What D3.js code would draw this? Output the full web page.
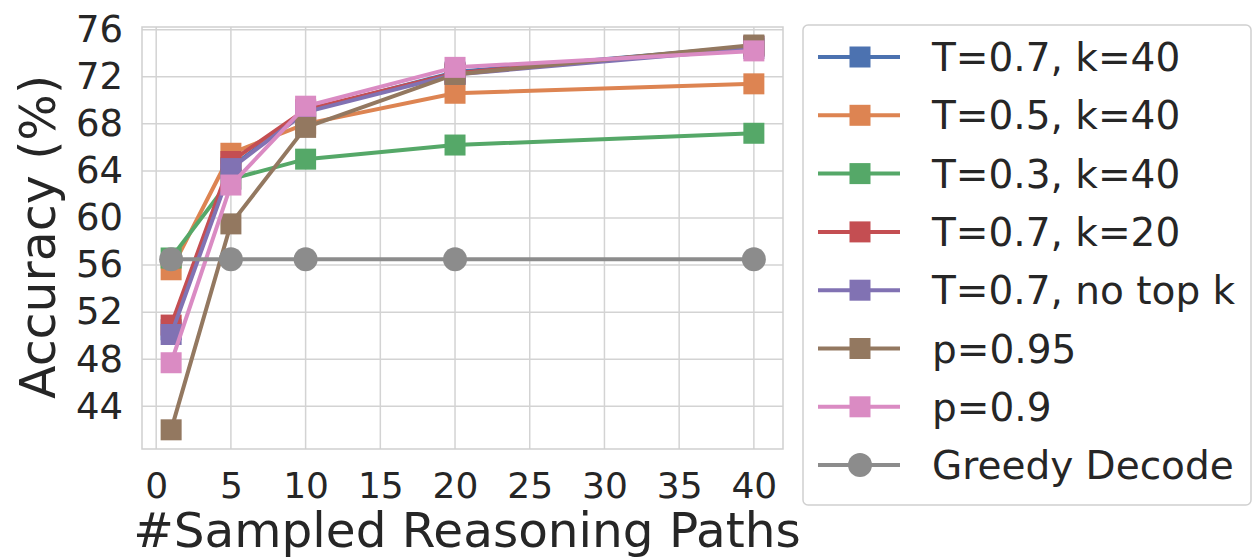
<!DOCTYPE html>
<html><head><meta charset="utf-8">
<script src="https://cdn.jsdelivr.net/npm/d3@7"></script>
<style>body{margin:0;background:#fff}svg{display:block;font-family:"DejaVu Sans",sans-serif}</style>
</head><body><svg id="c" width="1253" height="560"></svg>
<script>
const xValues = [1, 5, 10, 20, 40];
const seriesNames = ["T=0.7, k=40","T=0.5, k=40","T=0.3, k=40","T=0.7, k=20","T=0.7, no top k","p=0.95","p=0.9","Greedy Decode"];
const seriesColors = ["#4C72B0","#DD8452","#55A868","#C44E52","#8172B3","#937860","#DA8BC3","#8C8C8C"];
const seriesMarkers = ["square","square","square","square","square","square","square","circle"];
const t07k40 = [50.5, 64.3, 69.1, 72.4, 74.6];
const t05k40 = [55.6, 65.5, 68.0, 70.6, 71.4];
const t03k40 = [56.6, 63.3, 65.0, 66.2, 67.2];
const t07k20 = [50.9, 64.8, 69.2, 72.3, 74.6];
const t07noTopK = [50.1, 64.2, 69.0, 72.2, 74.4];
const p095 = [42.0, 59.5, 67.7, 72.2, 74.7];
const p09 = [47.7, 62.8, 69.5, 72.8, 74.2];
const greedy = [56.5, 56.5, 56.5, 56.5, 56.5];
const seriesValues = [t07k40, t05k40, t03k40, t07k20, t07noTopK, p095, p09, greedy];
const xTicks = [0,5,10,15,20,25,30,35,40];
const yTicks = [44,48,52,56,60,64,68,72,76];

const svg = d3.select("#c");
const L = 142, R = 783, T = 27, B = 449;
const x = d3.scaleLinear().domain([-0.95, 41.95]).range([L, R]);
const y = d3.scaleLinear().domain([40.37, 76.23]).range([B, T]);

// grid
const g = svg.append("g");
g.selectAll(".gx").data(xTicks).join("line")
  .attr("x1", d => x(d)).attr("x2", d => x(d)).attr("y1", T).attr("y2", B)
  .attr("stroke", "#d3d3d3").attr("stroke-width", 1.5);
g.selectAll(".gy").data(yTicks).join("line")
  .attr("y1", d => y(d)).attr("y2", d => y(d)).attr("x1", L).attr("x2", R)
  .attr("stroke", "#d3d3d3").attr("stroke-width", 1.5);
g.append("rect").attr("x", L).attr("y", T).attr("width", R - L).attr("height", B - T)
  .attr("fill", "none").attr("stroke", "#cfcfcf").attr("stroke-width", 1.5);

// axes
const xAxis = d3.axisBottom(x).tickValues(xTicks).tickSize(0).tickPadding(23);
const gx = svg.append("g").attr("transform", `translate(0,${B})`).call(xAxis);
gx.select(".domain").remove();
gx.selectAll("text").attr("font-size", 36).attr("fill", "#262626").attr("font-family", "DejaVu Sans");
const yAxis = d3.axisLeft(y).tickValues(yTicks).tickSize(0).tickPadding(19);
const gy = svg.append("g").attr("transform", `translate(${L},0)`).call(yAxis);
gy.select(".domain").remove();
gy.selectAll("text").attr("font-size", 37).attr("fill", "#262626").attr("font-family", "DejaVu Sans");

svg.append("text").attr("x", 467).attr("y", 547).attr("text-anchor", "middle")
  .attr("font-size", 48.5).attr("fill", "#262626").text("#Sampled Reasoning Paths");
svg.append("text").attr("transform", `translate(55,237) rotate(-90)`).attr("text-anchor", "middle")
  .attr("font-size", 49).attr("fill", "#262626").text("Accuracy (%)");

// lines
const line = d3.line().x((d, i) => x(xValues[i])).y(d => y(d));
const ms = 21;
seriesValues.forEach((vals, si) => {
  const c = seriesColors[si];
  const sg = svg.append("g");
  sg.append("path").datum(vals).attr("d", line).attr("fill", "none")
    .attr("stroke", c).attr("stroke-width", 4).attr("stroke-linejoin", "round");
  if (seriesMarkers[si] === "square") {
    sg.selectAll("rect").data(vals).join("rect")
      .attr("x", (d, i) => x(xValues[i]) - ms / 2).attr("y", d => y(d) - ms / 2)
      .attr("width", ms).attr("height", ms).attr("fill", c);
  } else {
    sg.selectAll("circle").data(vals).join("circle")
      .attr("cx", (d, i) => x(xValues[i])).attr("cy", d => y(d)).attr("r", 12).attr("fill", c);
  }
});

// legend
const lg = svg.append("g");
lg.append("rect").attr("x", 803).attr("y", 25).attr("width", 448).attr("height", 480).attr("rx", 5)
  .attr("fill", "#fff").attr("stroke", "#d0d0d0").attr("stroke-width", 1.5);
const rowY = i => 57 + i * 58.3;
seriesNames.forEach((name, i) => {
  const c = seriesColors[i];
  const yy = rowY(i);
  lg.append("line").attr("x1", 818).attr("x2", 900).attr("y1", yy).attr("y2", yy)
    .attr("stroke", c).attr("stroke-width", 4);
  if (seriesMarkers[i] === "square") {
    lg.append("rect").attr("x", 860 - ms / 2).attr("y", yy - ms / 2).attr("width", ms).attr("height", ms).attr("fill", c);
  } else {
    lg.append("circle").attr("cx", 860).attr("cy", yy).attr("r", 12).attr("fill", c);
  }
  lg.append("text").attr("x", 932).attr("y", yy).attr("dy", "0.36em").attr("font-size", 39)
    .attr("fill", "#262626").text(name);
});
</script></body></html>
